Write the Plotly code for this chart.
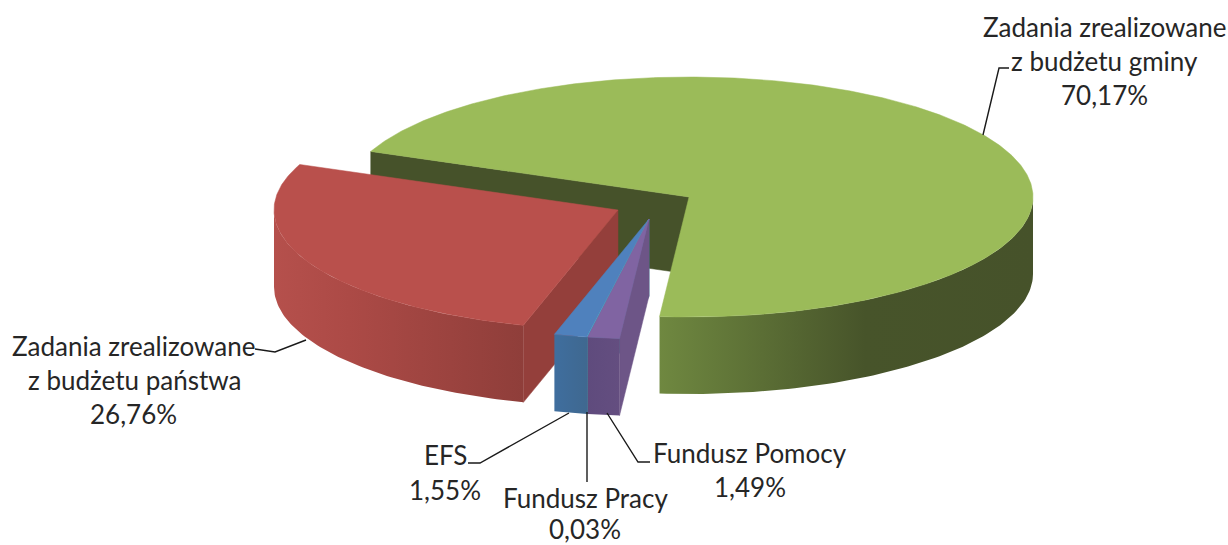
import numpy as np
import plotly.graph_objects as go

names = ["Zadania zrealizowane z budżetu gminy", "Fundusz Pomocy", "Fundusz Pracy", "EFS",
         "Zadania zrealizowane z budżetu państwa"]
values = [70.17, 1.49, 0.03, 1.55, 26.76]
value_labels = ["70,17%", "1,49%", "0,03%", "1,55%", "26,76%"]

# drawing set-up (canvas units equal screen pixels)
W, H = 1228, 545
CX, CY, RX, RY, DEPTH = 689, 197, 344, 120, 77
START = 292.3
OFFSETS = [(0, 0), (-40, 22), (-40, 22), (-40, 22), (-71, 13)]
TOP = ["#9BBB59", "#8064A2", "#4BACC6", "#4F81BD", "#B9504C"]
WALL = ["#46522A", "#6D5587", "#3B8A9C", "#3F6A97", "#943F3B"]
RIM = [
    [[0, "#6F8840"], [0.55, "#47542A"], [1, "#46522A"]],
    [[0, "#5F4B7D"], [1, "#644E80"]],
    [[0, "#3B8A9C"], [1, "#3B8A9C"]],
    [[0, "#3F6E9E"], [1, "#3F6890"]],
    [[0, "#B5504C"], [0.3, "#AC4A46"], [1, "#8F3E3A"]],
]

angles = [START]
for v in values:
    angles.append(angles[-1] + v / sum(values) * 360)


def pt(theta, ox, oy, dz=0):
    t = np.radians(theta)
    return CX + ox + RX * np.sin(t), CY + oy - RY * np.cos(t) + dz


def poly(xs, ys, color=None, grad=None):
    kw = dict(x=list(xs) + [xs[0]], y=list(ys) + [ys[0]], mode="lines", fill="toself",
              hoverinfo="skip", showlegend=False, line=dict(width=0.5, color=color or "rgba(0,0,0,0)"))
    if grad:
        kw["fillgradient"] = dict(type="horizontal", colorscale=grad)
        kw["line"] = dict(width=0)
    else:
        kw["fillcolor"] = color
    return go.Scatter(**kw)


fig = go.Figure()


def draw_slice(i):
    a0, a1 = angles[i], angles[i + 1]
    ox, oy = OFFSETS[i]
    ax, ay = CX + ox, CY + oy
    # flat side walls that face the viewer
    for a, side in ((a0, 1), (a1, -1)):
        ex, ey = pt(a, ox, oy)
        if np.sin(np.radians(a)) * -side > 0:
            fig.add_trace(poly([ax, ex, ex, ax], [ay, ey, ey + DEPTH, ay + DEPTH], WALL[i]))
    # outer rim: only the front half of the ellipse (90..270 deg) is visible
    for k in (0, 360):
        l, h = max(a0, 90 + k), min(a1, 270 + k)
        if h > l:
            th = np.linspace(l, h, 80)
            top = [pt(t, ox, oy) for t in th]
            bot = [pt(t, ox, oy, DEPTH) for t in th[::-1]]
            xs = [p[0] for p in top + bot]
            ys = [p[1] for p in top + bot]
            fig.add_trace(poly(xs, ys, grad=RIM[i]))
    # top face
    th = np.linspace(a0, a1, max(int(a1 - a0) * 2, 4))
    xs = [ax] + [pt(t, ox, oy)[0] for t in th]
    ys = [ay] + [pt(t, ox, oy)[1] for t in th]
    fig.add_trace(poly(xs, ys, TOP[i]))


for i in (0, 4, 3, 2, 1):
    draw_slice(i)

LEADERS = [
    ([1009, 999, 983], [68, 68, 135]),
    ([255, 275, 306], [349, 352, 340]),
    ([468, 480, 569], [463, 463, 413]),
    ([587, 587], [412, 482]),
    ([650, 638, 607], [462, 462, 413]),
]
for lx, ly in LEADERS:
    fig.add_trace(go.Scatter(x=lx, y=ly, mode="lines", line=dict(color="#1a1a1a", width=1.4),
                             hoverinfo="skip", showlegend=False))

LABELS = [
    ("Zadania zrealizowane", 1104, 27), ("z budżetu gminy", 1104, 61), (value_labels[0], 1104, 95),
    ("Zadania zrealizowane", 133, 346), ("z budżetu państwa", 134, 380), (value_labels[4], 133, 414),
    ("EFS", 445, 455), (value_labels[3], 445, 490),
    ("Fundusz Pracy", 585, 498), (value_labels[2], 585, 529),
    ("Fundusz Pomocy", 750, 453), (value_labels[1], 750, 487),
]
for text, x, y in LABELS:
    fig.add_annotation(x=x, y=y, text=text, showarrow=False, xref="x", yref="y",
                       xanchor="center", yanchor="middle",
                       font=dict(family="Lato", size=26, color="#262626"))

fig.update_xaxes(range=[0, W], visible=False, fixedrange=True)
fig.update_yaxes(range=[H, 0], visible=False, fixedrange=True)
fig.update_layout(width=W, height=H, margin=dict(l=0, r=0, t=0, b=0),
                  paper_bgcolor="white", plot_bgcolor="white", showlegend=False)
fig.write_html("out.html", config={"displayModeBar": False},
               post_script="document.body.style.margin='0';document.body.style.overflow='hidden';")
